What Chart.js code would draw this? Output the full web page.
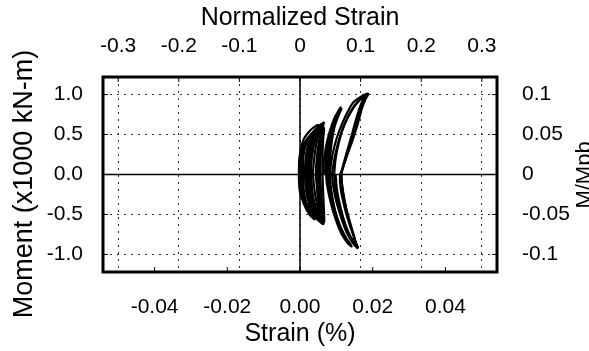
<!DOCTYPE html>
<html>
<head>
<meta charset="utf-8">
<script src="https://cdn.jsdelivr.net/npm/chart.js@4.4.0/dist/chart.umd.min.js"></script>
<style>
    html, body { margin: 0; padding: 0; background: #fff; }
</style>
</head>
<body>
<canvas id="momentChart" width="589" height="351"></canvas>
<script>
// axis ticks
const strainTicks = [-0.04, -0.02, 0, 0.02, 0.04];
const normStrainTicks = [-0.3, -0.2, -0.1, 0, 0.1, 0.2, 0.3];
const momentTicks = [-1.0, -0.5, 0, 0.5, 1.0];
const mmpbTicks = [-0.1, -0.05, 0, 0.05, 0.1];

// hysteresis cycles, [strain %, moment x1000 kN-m]
const cycleL1 = [[0.0000,0.00],[0.0001,0.14],[0.0006,0.28],[0.0018,0.38],[0.0032,0.42],[0.0026,0.34],[0.0018,0.20],[0.0014,0.06],[0.0014,0.00],[0.0016,-0.16],[0.0022,-0.30],[0.0030,-0.42],[0.0020,-0.38],[0.0008,-0.28],[0.0002,-0.14],[0.0000,0.00]];
const cycleL2 = [[-0.0003,0.00],[-0.0002,0.18],[0.0006,0.34],[0.0024,0.46],[0.0044,0.52],[0.0038,0.44],[0.0030,0.30],[0.0026,0.12],[0.0025,0.00],[0.0028,-0.16],[0.0034,-0.32],[0.0044,-0.52],[0.0032,-0.48],[0.0014,-0.38],[0.0000,-0.22],[-0.0003,-0.06],[-0.0003,0.00]];
const cycleL3 = [[0.0002,0.00],[0.0003,0.20],[0.0012,0.38],[0.0030,0.50],[0.0048,0.57],[0.0058,0.60],[0.0052,0.52],[0.0044,0.36],[0.0038,0.16],[0.0036,0.00],[0.0040,-0.20],[0.0048,-0.40],[0.0058,-0.58],[0.0046,-0.55],[0.0028,-0.47],[0.0012,-0.34],[0.0004,-0.16],[0.0002,0.00]];
const cycleL4 = [[0.0008,0.00],[0.0009,0.22],[0.0020,0.42],[0.0040,0.55],[0.0056,0.62],[0.0066,0.65],[0.0060,0.57],[0.0052,0.40],[0.0046,0.20],[0.0044,0.00],[0.0048,-0.20],[0.0056,-0.42],[0.0064,-0.62],[0.0052,-0.58],[0.0034,-0.50],[0.0018,-0.36],[0.0010,-0.18],[0.0008,0.00]];
const cycleL5 = [[0.0014,0.00],[0.0016,0.24],[0.0028,0.44],[0.0046,0.56],[0.0062,0.62],[0.0058,0.54],[0.0054,0.36],[0.0050,0.16],[0.0050,0.00],[0.0052,-0.22],[0.0058,-0.42],[0.0064,-0.60],[0.0052,-0.56],[0.0036,-0.46],[0.0022,-0.32],[0.0016,-0.14],[0.0014,0.00]];
const cycleL6 = [[0.0022,0.00],[0.0024,0.22],[0.0034,0.42],[0.0050,0.54],[0.0064,0.60],[0.0060,0.50],[0.0058,0.32],[0.0056,0.12],[0.0056,0.00],[0.0058,-0.22],[0.0062,-0.42],[0.0066,-0.58],[0.0054,-0.54],[0.0040,-0.44],[0.0028,-0.30],[0.0024,-0.12],[0.0022,0.00]];
const cycleL7 = [[0.0030,0.00],[0.0032,0.24],[0.0042,0.44],[0.0056,0.54],[0.0066,0.58],[0.0064,0.46],[0.0062,0.26],[0.0062,0.00],[0.0064,-0.26],[0.0066,-0.46],[0.0066,-0.60],[0.0056,-0.54],[0.0044,-0.42],[0.0034,-0.26],[0.0030,0.00]];
const cycleL8 = [[0.0004,0.00],[0.0005,0.20],[0.0014,0.40],[0.0034,0.52],[0.0052,0.60],[0.0046,0.50],[0.0036,0.32],[0.0030,0.12],[0.0030,0.00],[0.0034,-0.22],[0.0042,-0.42],[0.0052,-0.56],[0.0040,-0.52],[0.0022,-0.42],[0.0008,-0.26],[0.0004,0.00]];
const cycleL9 = [[0.0018,0.00],[0.0020,0.24],[0.0030,0.42],[0.0048,0.54],[0.0060,0.58],[0.0056,0.48],[0.0050,0.28],[0.0046,0.10],[0.0046,0.00],[0.0048,-0.24],[0.0054,-0.46],[0.0060,-0.58],[0.0048,-0.54],[0.0032,-0.42],[0.0022,-0.24],[0.0018,0.00]];
const cycleL10 = [[-0.0001,0.00],[0.0000,0.26],[0.0010,0.44],[0.0030,0.56],[0.0050,0.62],[0.0044,0.52],[0.0034,0.34],[0.0022,0.14],[0.0020,0.00],[0.0022,-0.24],[0.0030,-0.44],[0.0040,-0.56],[0.0026,-0.50],[0.0010,-0.36],[0.0000,-0.18],[-0.0001,0.00]];
const cycleL11 = [[0.0026,0.00],[0.0028,0.26],[0.0038,0.46],[0.0052,0.56],[0.0062,0.60],[0.0058,0.44],[0.0054,0.22],[0.0052,0.00],[0.0054,-0.28],[0.0060,-0.48],[0.0062,-0.58],[0.0050,-0.50],[0.0038,-0.36],[0.0030,-0.18],[0.0026,0.00]];
const cycleM1 = [[0.0062,0.00],[0.0066,0.18],[0.0072,0.36],[0.0082,0.54],[0.0094,0.70],[0.0106,0.80],[0.0112,0.84],[0.0104,0.78],[0.0092,0.64],[0.0084,0.46],[0.0078,0.26],[0.0076,0.08],[0.0076,0.00],[0.0080,-0.22],[0.0090,-0.44],[0.0104,-0.62],[0.0122,-0.78],[0.0142,-0.90],[0.0132,-0.86],[0.0114,-0.74],[0.0098,-0.56],[0.0084,-0.34],[0.0074,-0.12],[0.0072,0.00]];
const cycleM2 = [[0.0072,0.00],[0.0074,0.20],[0.0082,0.42],[0.0096,0.62],[0.0108,0.76],[0.0114,0.82],[0.0106,0.74],[0.0094,0.58],[0.0086,0.36],[0.0082,0.14],[0.0082,0.00],[0.0086,-0.20],[0.0096,-0.44],[0.0110,-0.64],[0.0128,-0.80],[0.0140,-0.88],[0.0128,-0.84],[0.0112,-0.68],[0.0096,-0.48],[0.0086,-0.26],[0.0082,0.00]];
const cycleM3 = [[0.0068,0.00],[0.0072,0.22],[0.0080,0.44],[0.0092,0.62],[0.0104,0.76],[0.0110,0.80],[0.0100,0.70],[0.0090,0.52],[0.0082,0.30],[0.0078,0.10],[0.0078,0.00],[0.0084,-0.24],[0.0094,-0.46],[0.0108,-0.66],[0.0124,-0.80],[0.0136,-0.86],[0.0124,-0.80],[0.0108,-0.62],[0.0094,-0.42],[0.0084,-0.20],[0.0080,0.00]];
const cycleO1 = [[0.0082,0.00],[0.0086,0.16],[0.0094,0.34],[0.0106,0.52],[0.0124,0.72],[0.0146,0.90],[0.0170,0.98],[0.0188,1.01],[0.0180,0.94],[0.0170,0.82],[0.0158,0.62],[0.0144,0.42],[0.0128,0.22],[0.0116,0.06],[0.0110,0.00],[0.0112,-0.18],[0.0122,-0.40],[0.0136,-0.62],[0.0150,-0.80],[0.0158,-0.92],[0.0146,-0.86],[0.0128,-0.72],[0.0112,-0.52],[0.0098,-0.30],[0.0090,-0.10],[0.0088,0.00]];
const cycleO2 = [[0.0088,0.00],[0.0094,0.18],[0.0104,0.38],[0.0118,0.58],[0.0138,0.78],[0.0160,0.92],[0.0182,0.99],[0.0174,0.90],[0.0162,0.74],[0.0150,0.54],[0.0136,0.34],[0.0122,0.14],[0.0114,0.00],[0.0118,-0.20],[0.0128,-0.44],[0.0142,-0.68],[0.0154,-0.86],[0.0160,-0.91],[0.0150,-0.88],[0.0134,-0.76],[0.0118,-0.56],[0.0104,-0.34],[0.0096,-0.14],[0.0094,0.00]];
const cycleO3 = [[0.0094,0.00],[0.0098,0.20],[0.0108,0.42],[0.0122,0.62],[0.0142,0.80],[0.0162,0.92],[0.0176,0.96],[0.0168,0.88],[0.0156,0.72],[0.0144,0.52],[0.0130,0.30],[0.0118,0.10],[0.0114,0.00],[0.0118,-0.22],[0.0130,-0.48],[0.0144,-0.70],[0.0152,-0.84],[0.0142,-0.80],[0.0126,-0.64],[0.0112,-0.42],[0.0102,-0.20],[0.0098,0.00]];

const allCycles = [cycleL1, cycleL2, cycleL10, cycleL3, cycleL8, cycleL4, cycleL5, cycleL9, cycleL6, cycleL11, cycleL7,
    cycleM1, cycleM3, cycleM2, cycleO1, cycleO2, cycleO3];

const FONT = '"Liberation Sans", Arial, sans-serif';
Chart.defaults.font.family = FONT;
Chart.defaults.color = '#000';

// frame, zero lines, inward tick marks, rotated axis titles
const framePlugin = {
    id: 'frame',
    beforeDatasetsDraw(chart) {
        const { ctx, chartArea: a, scales } = chart;
        ctx.save();
        ctx.strokeStyle = '#000';
        ctx.lineWidth = 1.5;
        const x0 = scales.x.getPixelForValue(0);
        const y0 = scales.y.getPixelForValue(0);
        ctx.beginPath();
        ctx.moveTo(x0, a.top); ctx.lineTo(x0, a.bottom);
        ctx.moveTo(a.left, y0); ctx.lineTo(a.right, y0);
        ctx.stroke();
        ctx.restore();
    },
    afterDraw(chart) {
        const { ctx, chartArea: a, scales } = chart;
        ctx.save();
        ctx.strokeStyle = '#000';
        ctx.lineWidth = 1;
        const t = 5;
        ctx.beginPath();
        strainTicks.forEach(v => { const px = scales.x.getPixelForValue(v); ctx.moveTo(px, a.bottom); ctx.lineTo(px, a.bottom - t); });
        normStrainTicks.forEach(v => { const px = scales.x2.getPixelForValue(v); ctx.moveTo(px, a.top); ctx.lineTo(px, a.top + t); });
        momentTicks.forEach(v => { const py = scales.y.getPixelForValue(v); ctx.moveTo(a.left, py); ctx.lineTo(a.left + t, py); });
        mmpbTicks.forEach(v => { const py = scales.y2.getPixelForValue(v); ctx.moveTo(a.right, py); ctx.lineTo(a.right - t, py); });
        ctx.stroke();
        ctx.lineWidth = 3;
        ctx.strokeRect(a.left, a.top, a.right - a.left, a.bottom - a.top);
        ctx.restore();

        ctx.save();
        ctx.fillStyle = '#000';
        ctx.textAlign = 'center';
        ctx.textBaseline = 'alphabetic';
        ctx.translate(32, 184);
        ctx.rotate(-Math.PI / 2);
        ctx.font = '27px ' + FONT;
        ctx.fillText('Moment (x1000 kN-m)', 0, 0);
        ctx.restore();

        ctx.save();
        ctx.fillStyle = '#000';
        ctx.textAlign = 'center';
        ctx.textBaseline = 'alphabetic';
        ctx.translate(591, 175);
        ctx.rotate(-Math.PI / 2);
        ctx.font = '22px ' + FONT;
        ctx.fillText('M/Mpb', 0, 0);
        ctx.restore();
    }
};

const ctx = document.getElementById('momentChart').getContext('2d');

new Chart(ctx, {
    type: 'scatter',
    data: {
        datasets: allCycles.map((cyc, i) => ({
            label: 'cycle ' + (i + 1),
            data: cyc.map(p => ({ x: p[0], y: p[1] })),
            showLine: true,
            borderColor: '#000',
            borderWidth: 2.2,
            pointRadius: 0,
            tension: 0.25,
            xAxisID: 'x',
            yAxisID: 'y'
        }))
    },
    options: {
        responsive: false,
        animation: false,
        layout: { padding: 0 },
        plugins: {
            legend: { display: false },
            tooltip: { enabled: false }
        },
        scales: {
            x: {
                type: 'linear',
                position: 'bottom',
                min: -0.0542,
                max: 0.0542,
                afterBuildTicks: s => { s.ticks = strainTicks.map(v => ({ value: v })); },
                afterFit: s => { s.height = 79; },
                ticks: { callback: v => v.toFixed(2), font: { size: 21 }, padding: 23, maxRotation: 0 },
                grid: { display: false, drawTicks: false },
                border: { display: false },
                title: { display: true, text: 'Strain (%)', font: { size: 25 }, padding: { top: 0, bottom: 2 } }
            },
            x2: {
                type: 'linear',
                position: 'top',
                min: -0.325,
                max: 0.325,
                afterBuildTicks: s => { s.ticks = normStrainTicks.map(v => ({ value: v })); },
                afterFit: s => { s.height = 77; },
                ticks: { callback: v => String(Math.round(v * 10) / 10), font: { size: 21 }, padding: 18, maxRotation: 0 },
                grid: { display: true, drawTicks: false, color: '#333', lineWidth: 1 },
                border: { display: false, dash: [2, 5] },
                title: { display: true, text: 'Normalized Strain', font: { size: 25 }, padding: { top: 3, bottom: 0 } }
            },
            y: {
                type: 'linear',
                position: 'left',
                min: -1.22,
                max: 1.22,
                afterBuildTicks: s => { s.ticks = momentTicks.map(v => ({ value: v })); },
                afterFit: s => { s.width = 103; },
                ticks: { callback: v => v.toFixed(1), font: { size: 21 }, padding: 20 },
                grid: { display: true, drawTicks: false, color: '#333', lineWidth: 1 },
                border: { display: false, dash: [2, 5] }
            },
            y2: {
                type: 'linear',
                position: 'right',
                min: -0.122,
                max: 0.122,
                afterBuildTicks: s => { s.ticks = mmpbTicks.map(v => ({ value: v })); },
                afterFit: s => { s.width = 92; },
                ticks: { callback: v => String(Math.round(v * 100) / 100), font: { size: 21 }, padding: 25 },
                grid: { display: false, drawTicks: false },
                border: { display: false }
            }
        }
    },
    plugins: [framePlugin]
});
</script>
</body>
</html>
